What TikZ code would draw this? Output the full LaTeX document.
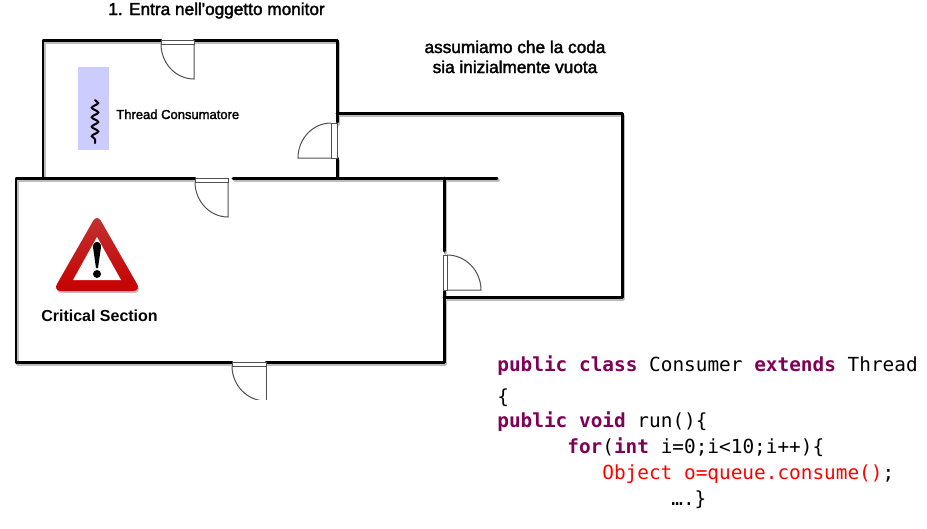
\documentclass[tikz,border=0pt]{standalone}
\usepackage{fontspec}
\usepackage{tikz}
\usetikzlibrary{calc, decorations.pathmorphing}
\newfontfamily\labelfont{Liberation Sans}
\newfontfamily\labelfontmed[BoldFont={Liberation Sans}, BoldFeatures={FakeBold=2}]{Liberation Sans}
\setmonofont{DejaVu Sans Mono}
\definecolor{keyword}{HTML}{7F0055}
\definecolor{threadblue}{HTML}{CCCCFF}
\definecolor{wallgrey}{HTML}{BDBDBD}
\definecolor{doorline}{HTML}{505050}
\newcommand{\kw}[1]{\textcolor{keyword}{\textbf{#1}}}
\tikzset{
  wall/.style={line width=0.06cm, line cap=round, line join=round},
  wallshadow/.style={wall, wallgrey, shift={(1.5, 2.5)}},
  door/.style={line width=0.02cm, doorline},
  label/.style={anchor=base west, inner sep=0, text=black},
  code/.style={label, font=\ttfamily\fontsize{11.04}{13}\selectfont},
}

\begin{document}
\begin{tikzpicture}[x=0.02cm, y=-0.02cm]
    \useasboundingbox (0, 0) rectangle (927, 528);
    \fill [white] (0, 0) rectangle (927, 528);
    % walls, the shaded copy first
    \foreach \s in {wallshadow, wall} {
      \draw [\s] (161, 40) -- (43, 40) -- (43, 178);
      \draw [\s] (194, 40) -- (337, 40) -- (337, 122);
      \draw [\s] (337, 158) -- (337, 178);
      \draw [\s] (337, 113) -- (622, 113) -- (622, 297) -- (444, 297);
      \draw [\s] (195, 178) -- (16, 178) -- (16, 362) -- (232, 362);
      \draw [\s] (233, 178) -- (497, 178);
      \draw [\s] (266, 362) -- (444, 362) -- (444, 290);
      \draw [\s] (444, 178) -- (444, 251);
    }
    % doors: hinge, end of the leaf, far end of the arc, corner
    \foreach \hx/\hy/\tx/\ty/\ox/\oy/\cx/\cy in {194/44/194/79/161/44/161/79, 228/182/228/217/195/182/195/217,
        331/158/298/158/331/123/298/123, 447/290/481/290/447/255/481/255} {
      \draw [door] (\hx, \hy) -- (\tx, \ty)
        .. controls ($(\tx, \ty)!0.55!(\cx, \cy)$) and ($(\ox, \oy)!0.55!(\cx, \cy)$) .. (\ox, \oy);
    }
    \foreach \jx/\jy/\jw/\jh in {161/40/33/4, 195/178/33/4, 232/362/34/4, 331/123/6/35, 443/255/4/35} {
      \draw [door, fill=white] (\jx, \jy) rectangle ++(\jw, \jh);
    }
    \begin{scope}
      \clip (220, 360) rectangle (280, 399.5);
      \draw [door] (266, 366) -- (266, 401);
      \draw [door] (232, 366) .. controls (232, 385) and (247, 401) .. (266, 401);
    \end{scope}

    % thread
    \fill [threadblue] (78, 67) rectangle (109, 150);
    \draw [line width=0.04cm, line cap=round, decorate,
      decoration={snake, amplitude=0.065cm, segment length=0.19cm}] (95, 100) -- (95, 143);
    \node [label, font=\labelfontmed\bfseries\fontsize{7.4}{8}\selectfont] (threadlabel) at (116, 119) {Thread Consumatore};

    % warning sign
    \fill [wallgrey, rounded corners=0.16cm, shift={(1, 2)}] (97, 214) -- (141, 291) -- (53, 291) -- cycle;
    \shade [top color=red!70!black!80!white, bottom color=red!78!black, rounded corners=0.16cm]
      (97, 214) -- (141, 291) -- (53, 291) -- cycle;
    \fill [white] (97, 237) -- (121, 280) -- (73, 280) -- cycle;
    \fill [black] (93, 247) .. controls (93, 240) and (101, 240) .. (101, 247) -- (98, 268) -- (96, 268) -- cycle;
    \fill [black] (97, 274) circle [radius=0.08cm];
    \node [label, font=\labelfont\bfseries\fontsize{9.1}{10}\selectfont] (critical) at (41, 321) {Critical Section};

    % texts
    \node [label, font=\labelfontmed\bfseries\fontsize{9.8}{10}\selectfont] (title) at (108, 15) {1. Entra nell'oggetto monitor};
    \node [label, font=\labelfontmed\bfseries\fontsize{9.8}{10}\selectfont, anchor=base] (queuea) at (515, 53) {assumiamo che la coda};
    \node [label, font=\labelfontmed\bfseries\fontsize{9.8}{10}\selectfont, anchor=base] (queueb) at (515, 73) {sia inizialmente vuota};

    % code
    \node [code] (line1) at (497, 371) {\kw{public class} Consumer \kw{extends} Thread};
    \node [code] (line2) at (497, 403) {\{};
    \node [code] (line3) at (497, 427) {\kw{public void} run()\{};
    \node [code] (line4) at (567, 453) {\kw{for}(\kw{int} i=0;i<10;i++)\{};
    \node [code] (line5) at (602, 479) {\textcolor{red}{Object o=queue.consume()};};
    \node [code] (line6) at (671, 505) {….\}};
  \end{tikzpicture}
\end{document}
